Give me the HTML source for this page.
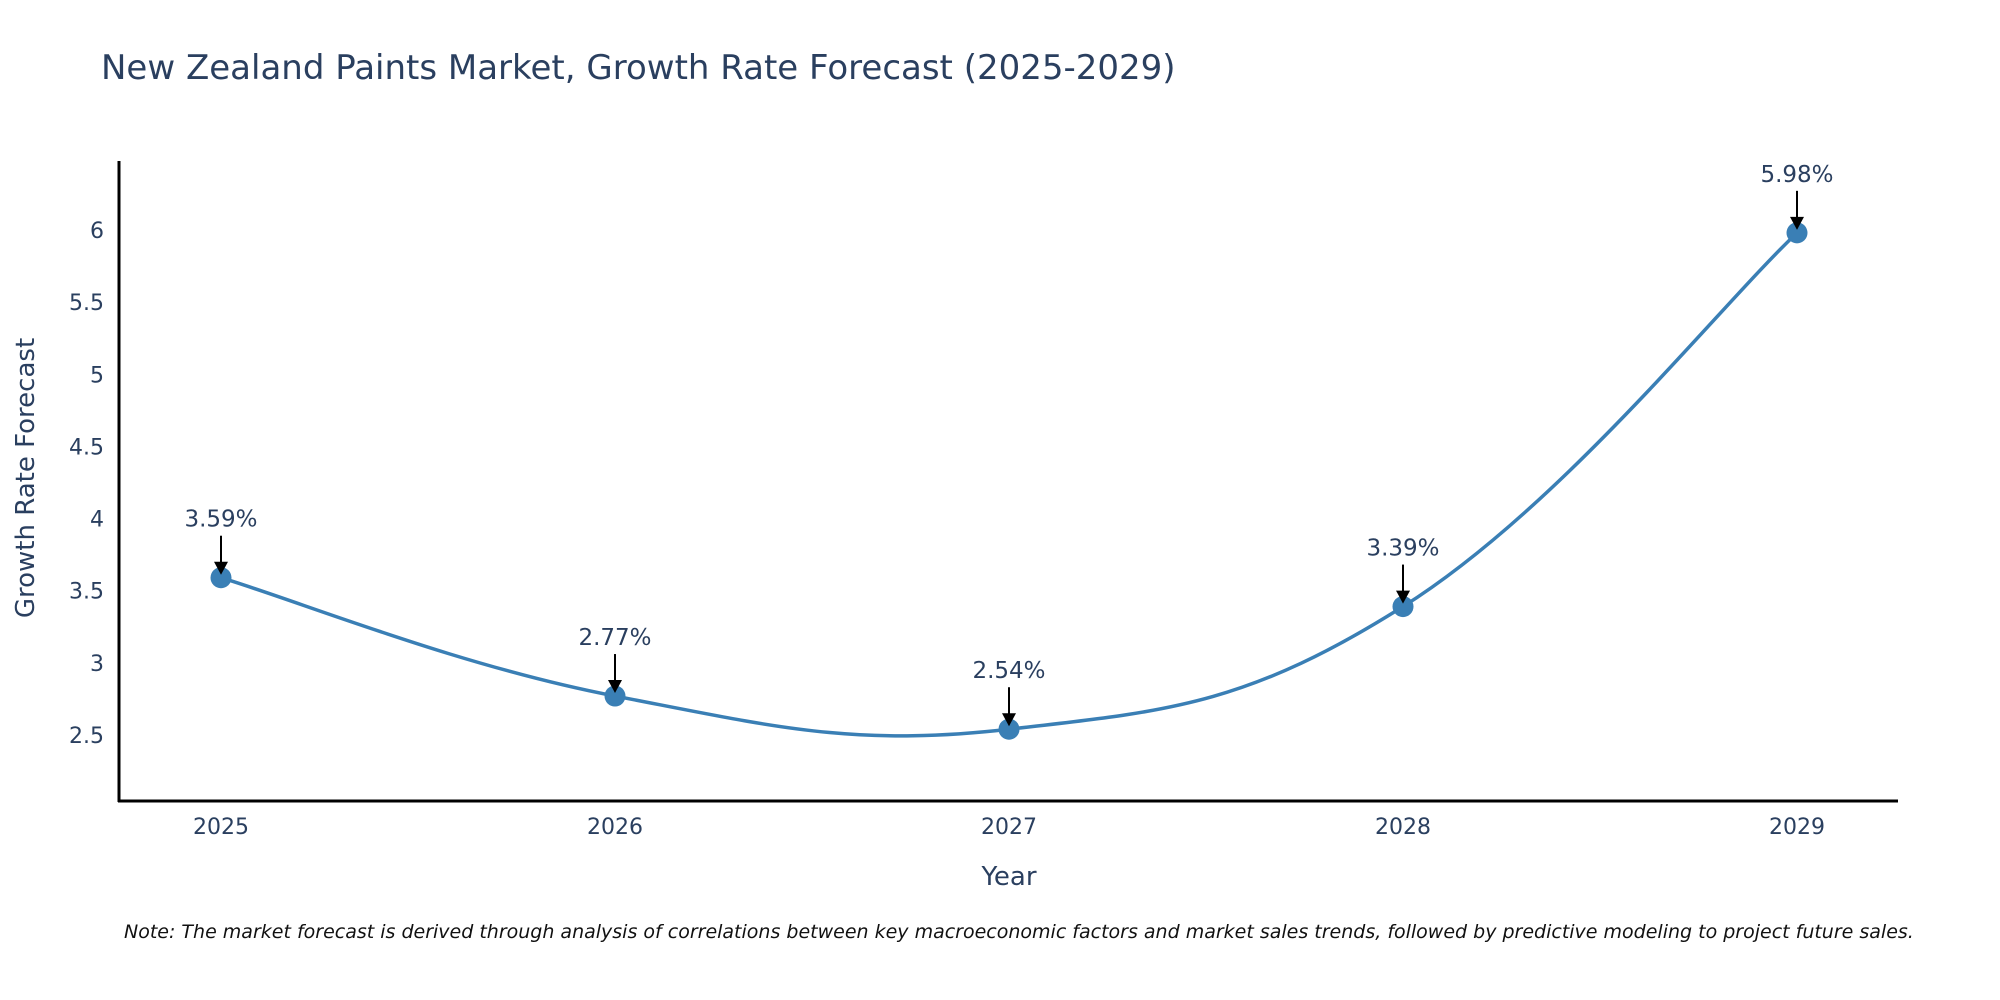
<!DOCTYPE html>
<html><head><meta charset="utf-8"><style>
body{margin:0;background:#fff;}
svg{display:block;font-family:"DejaVu Sans","Liberation Sans",sans-serif;}
</style></head><body>
<svg id="chart" width="2000" height="1000">
<text x="101" y="79" font-size="34" fill="#2a3f5f">New Zealand Paints Market, Growth Rate Forecast (2025-2029)</text>
<g id="axes"></g>
<g id="series"></g>
<g id="ann"></g>
<text x="1009" y="885" font-size="26" fill="#2a3f5f" text-anchor="middle">Year</text>
<text transform="translate(34,478) rotate(-90)" font-size="26" fill="#2a3f5f" text-anchor="middle">Growth Rate Forecast</text>
<text x="124" y="938" font-size="19" font-style="italic" fill="#111">Note: The market forecast is derived through analysis of correlations between key macroeconomic factors and market sales trends, followed by predictive modeling to project future sales.</text>
</svg>
<script>
const years=[2025,2026,2027,2028,2029];
const values=[3.59,2.77,2.54,3.39,5.98];
const labels=["3.59%","2.77%","2.54%","3.39%","5.98%"];
const yTicks=[2.5,3,3.5,4,4.5,5,5.5,6];
const NS="http://www.w3.org/2000/svg";
const x=v=>221+(v-2025)*394;
const y=v=>735-(v-2.5)*144.3;
function mk(tag,attrs,parent){const e=document.createElementNS(NS,tag);for(const k in attrs)e.setAttribute(k,attrs[k]);parent.appendChild(e);return e;}
const axes=document.getElementById('axes'),series=document.getElementById('series'),ann=document.getElementById('ann');
let l=mk('line',{x1:119,y1:161,x2:119,y2:802,stroke:'#000','stroke-width':3},axes);


l=mk('line',{x1:118,y1:801,x2:1898,y2:801,stroke:'#000','stroke-width':3},axes);


yTicks.forEach(t=>{const e=mk('text',{x:104,y:y(t)+8,'font-size':22,fill:'#2a3f5f','text-anchor':'end'},axes);e.textContent=String(t);

});
years.forEach(t=>{const e=mk('text',{x:x(t),y:834,'font-size':22,fill:'#2a3f5f','text-anchor':'middle'},axes);e.textContent=String(t);

});
const pts=years.map((yr,i)=>[x(yr),y(values[i])]);
let d='M'+pts[0][0]+','+pts[0][1];
const s=0.2;
for(let i=0;i<pts.length-1;i++){const p0=pts[Math.max(0,i-1)],p1=pts[i],p2=pts[i+1],p3=pts[Math.min(pts.length-1,i+2)];
const c1=[p1[0]+(p2[0]-p0[0])*s,p1[1]+(p2[1]-p0[1])*s],c2=[p2[0]-(p3[0]-p1[0])*s,p2[1]-(p3[1]-p1[1])*s];
d+=' C'+c1+' '+c2+' '+p2;}
const path=mk('path',{d:d,fill:'none',stroke:'#3a7fb5','stroke-width':3.5},series);


pts.forEach((p,i)=>{const c=mk('circle',{cx:p[0],cy:p[1],r:10.5,fill:'#3a7fb5'},series);


const a=mk('line',{x1:p[0],y1:p[1]-42,x2:p[0],y2:p[1]-14,stroke:'#000','stroke-width':2},ann);


const h=mk('polygon',{points:(p[0]-7)+','+(p[1]-16)+' '+(p[0]+7)+','+(p[1]-16)+' '+p[0]+','+(p[1]-3)},ann);


const t=mk('text',{x:p[0],y:p[1]-51,'font-size':23,fill:'#2a3f5f','text-anchor':'middle'},ann);t.textContent=labels[i];

});
</script>
</body></html>
